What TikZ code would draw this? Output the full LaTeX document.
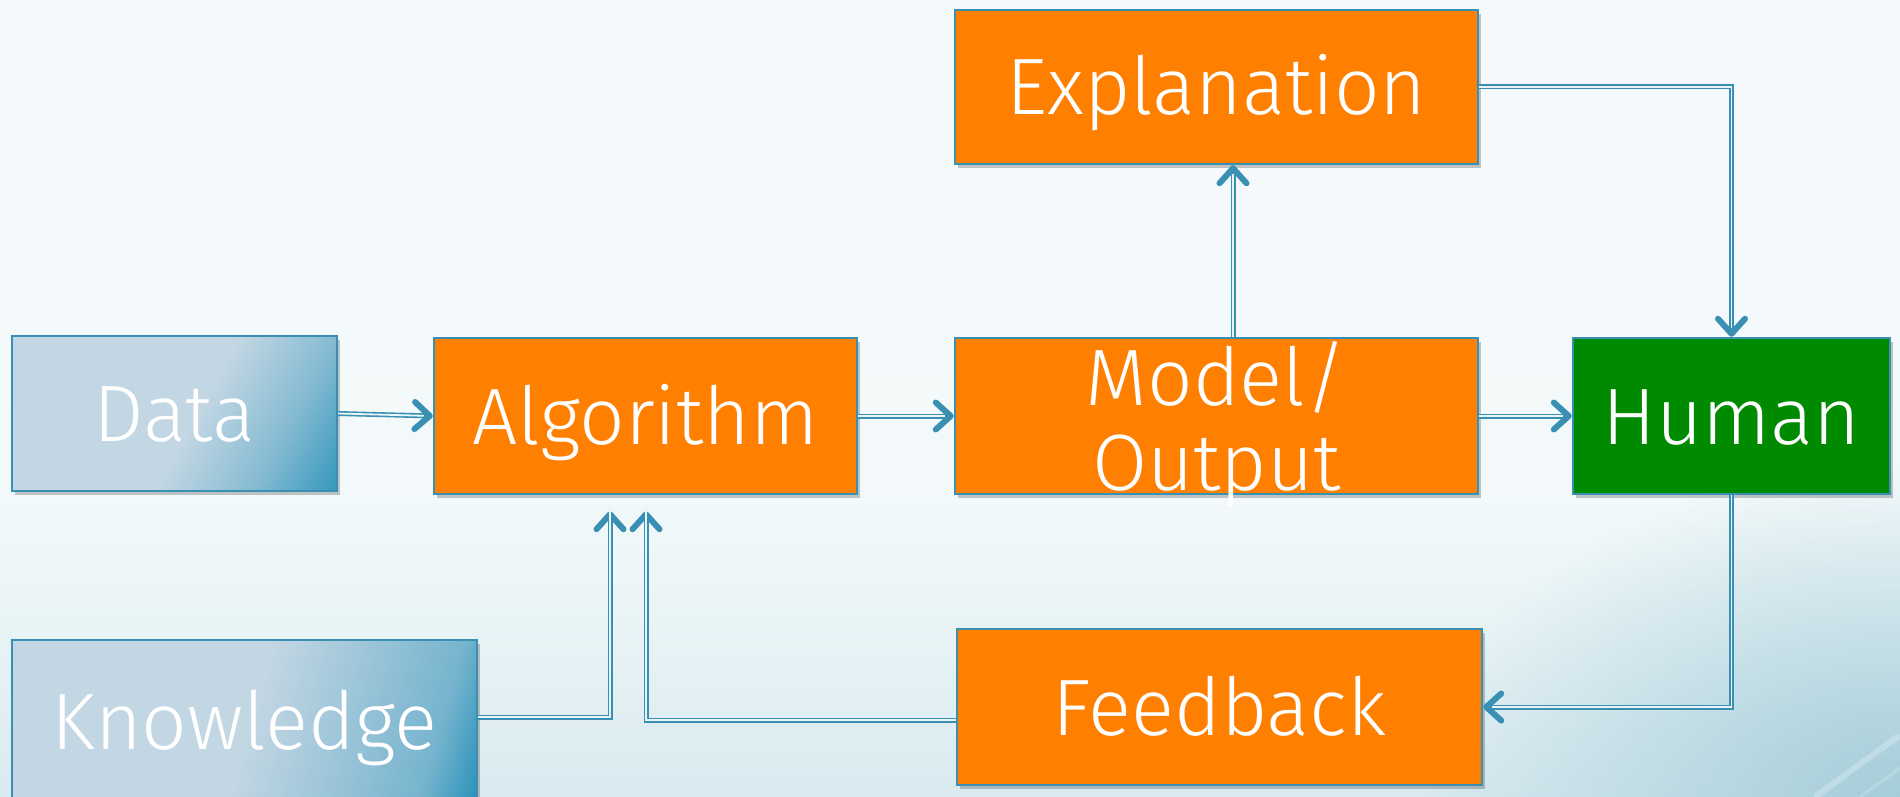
\documentclass[tikz,border=0pt]{standalone}
\usepackage{fontspec}
\setmainfont{Fira Sans}[UprightFont=* Light]
\usetikzlibrary{arrows.meta,shadows,fadings}

\definecolor{linkblue}{HTML}{3A90B3}
\definecolor{linkfill}{HTML}{EAF4F7}
\definecolor{stepfill}{HTML}{FF7F00}
\definecolor{humanfill}{HTML}{008A00}
\definecolor{srclight}{HTML}{C2D6E3}
\definecolor{srcdark}{HTML}{2A92B9}
\colorlet{srcmid}{srcdark!40!srclight}
\colorlet{srchalf}{srcdark!50!srclight}
\definecolor{bgtop}{HTML}{F6F9FC}
\definecolor{bgmid}{HTML}{F3F9FA}
\definecolor{bglow}{HTML}{E6F2F5}
\definecolor{bgbot}{HTML}{D9EAF0}
\definecolor{cornerblue}{HTML}{9CC8D6}

% source blocks: flat on the left, darkening towards the lower right corner
\pgfdeclarehorizontalshading{datashade}{100bp}{color(0bp)=(srclight); color(54bp)=(srclight); color(70bp)=(srcmid); color(86bp)=(srcdark); color(100bp)=(srcdark)}
\pgfdeclarehorizontalshading{knowshade}{100bp}{color(0bp)=(srclight); color(51bp)=(srclight); color(74bp)=(srchalf); color(81bp)=(srcdark); color(100bp)=(srcdark)}
% backdrop: near white on top, light blue along the bottom
\pgfdeclareverticalshading{backdrop}{100bp}{color(0bp)=(bgbot); color(25bp)=(bgbot); color(34bp)=(bglow); color(44bp)=(bgmid); color(75bp)=(bgtop); color(100bp)=(bgtop)}

\tikzfading[name=cornerfade, inner color=transparent!15, outer color=transparent!100]

\tikzset{
  box/.style={draw=linkblue, line width=2.5pt, inner sep=0pt, text=white,
    font=\fontsize{80}{85}\selectfont, text height=56pt, text depth=0pt,
    drop shadow={shadow xshift=3pt, shadow yshift=-4pt, opacity=0.22, fill=black}},
  stepbox/.style={box, fill=stepfill},
  humanbox/.style={box, fill=humanfill},
  sourcebox/.style 2 args={box, shade, shading=#1, shading angle=#2},
  boxtext/.style={inner sep=0pt, text=white, align=center,
    font=\fontsize{80}{85}\selectfont},
  conn/.style={draw=linkblue, line width=5pt,
    -{Straight Barb[length=15pt, width=27pt, line width=6pt, round]},
    postaction={draw=linkfill, line width=1.8pt, -, shorten >=9pt}},
  connshort/.style={conn, shorten >=16pt,
    postaction={draw=linkfill, line width=1.8pt, -, shorten >=25pt}},
}

\begin{document}
\begin{tikzpicture}[x=1pt, y=-1pt]
  \useasboundingbox (0,0) rectangle (1900,797);

  % backdrop
  \shade[shading=backdrop] (0,0) rectangle (1900,797);
  \fill[cornerblue, path fading=cornerfade] (1900,797) ellipse[x radius=480, y radius=330];
  \draw[white, opacity=0.25, line width=6pt] (1815,797) -- (1900,735);
  \draw[white, opacity=0.18, line width=3pt] (1860,797) -- (1900,768);

  % blocks
  \node[sourcebox={datashade}{-28.7}, minimum width=325pt, minimum height=155pt] (data) at (174.5,413.5) {Data};
  \node[sourcebox={knowshade}{-16.4}, minimum width=465pt, minimum height=162pt] (know) at (244.5,721) {Knowledge};
  \node[stepbox, minimum width=423pt, minimum height=156pt] (algo) at (645.5,416) {Algorithm};
  \node[stepbox, minimum width=523pt, minimum height=156pt] (model) at (1216.5,416) {};
  \node[boxtext] (modeltext) at ([yshift=-8pt]model.center) {Model/\\Output};
  \node[stepbox, minimum width=523pt, minimum height=154pt] (expl) at (1216.5,87) {Explanation};
  \node[humanbox, minimum width=317pt, minimum height=156pt] (human) at (1731.5,416) {Human};
  \node[stepbox, minimum width=525pt, minimum height=156pt] (feed) at (1219.5,707) {Feedback};

  % connectors
  \draw[conn] (data.east) -- (algo.west);
  \draw[conn] (algo.east) -- (model.west);
  \draw[conn] (model.east) -- (human.west);
  \draw[conn] ([xshift=16.5pt]model.north) -- ([xshift=16.5pt]expl.south);
  \draw[conn] (expl.east) -| (human.north);
  \draw[conn] (human.south) |- (feed.east);
  \draw[connshort] ([yshift=4pt]know.east) -| ([xshift=-35.5pt]algo.south);
  \draw[connshort] ([yshift=-13pt]feed.west) -| ([xshift=0.5pt]algo.south);
\end{tikzpicture}
\end{document}
